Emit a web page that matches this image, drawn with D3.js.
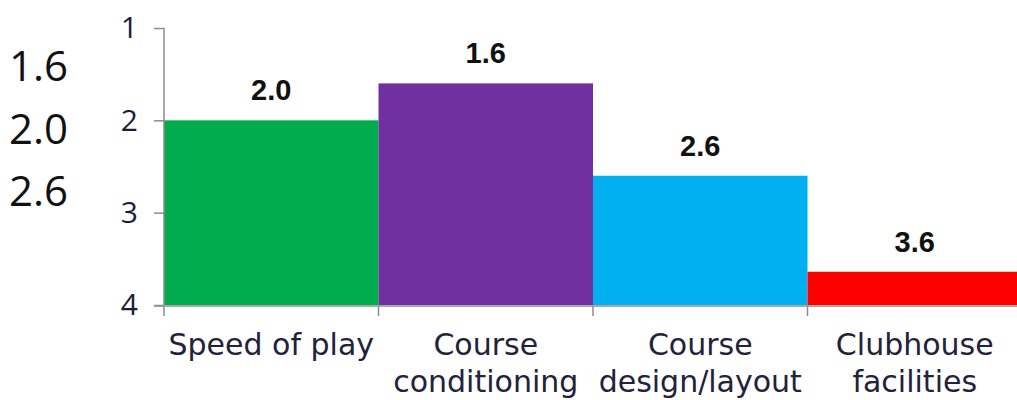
<!DOCTYPE html>
<html><head><meta charset="utf-8">
<script src="https://cdn.jsdelivr.net/npm/d3@7"></script>
<style>body{margin:0;background:#fff;}svg{display:block;}</style>
</head><body>
<svg id="c" width="1017" height="400"></svg>
<script>
const categories = [["Speed of play"], ["Course", "conditioning"], ["Course", "design/layout"], ["Clubhouse", "facilities"]];
const values = [2.0, 1.6, 2.6, 3.64];
const colors = ["#00ac4e", "#7030a0", "#00b0f0", "#ff0000"];
const yTicks = [1, 2, 3, 4];
const sideNotes = ["1.6", "2.0", "2.6"];

const svg = d3.select("#c");
const x = d3.scaleBand().domain(d3.range(categories.length)).range([164, 1022]).padding(0);
const y = d3.scaleLinear().domain([1, 4]).range([28, 305]);

// bars
svg.selectAll("rect.bar").data(values).join("rect")
  .attr("x", (d, i) => x(i)).attr("width", x.bandwidth())
  .attr("y", d => y(d)).attr("height", d => y(4) - y(d))
  .attr("fill", (d, i) => colors[i]);

// value labels
svg.selectAll("text.val").data(values).join("text")
  .attr("x", (d, i) => x(i) + x.bandwidth() / 2)
  .attr("y", d => y(d) - 20)
  .attr("text-anchor", "middle")
  .attr("font-family", "Liberation Sans, Arial, sans-serif")
  .attr("font-weight", "bold").attr("font-size", 29).attr("fill", "#111")
  .text(d => d.toFixed(1));

// y axis
const yAxis = d3.axisLeft(y).tickValues(yTicks).tickSize(10).tickPadding(16).tickFormat(d3.format("d"));
const gy = svg.append("g").attr("transform", "translate(164,0)").call(yAxis);
gy.select(".domain").attr("stroke", "#8c8c8c").attr("stroke-width", 1.5).attr("d", "M0,28V305");
gy.selectAll(".tick line").attr("stroke", "#8c8c8c").attr("stroke-width", 1.5);
gy.selectAll(".tick text").attr("font-family", "Open Sans, sans-serif").attr("font-size", 30).attr("fill", "#1c1c3a").attr("dy", "0.33em");

// x axis
const xAxis = d3.axisBottom(x).tickSize(0).tickFormat("");
const gx = svg.append("g").attr("transform", "translate(0,306)").call(xAxis);
gx.select(".domain").attr("stroke", "#8c8c8c").attr("stroke-width", 1.5).attr("d", "M154,0H1017");
gx.selectAll(".tick").remove();
const bounds = d3.range(categories.length + 1).map(i => 164 + i * x.step());
gx.selectAll("line.sep").data(bounds).join("line")
  .attr("x1", d => d).attr("x2", d => d).attr("y1", 0).attr("y2", 10)
  .attr("stroke", "#8c8c8c").attr("stroke-width", 1.5);

// category labels
const lab = svg.selectAll("text.cat").data(categories).join("text")
  .attr("text-anchor", "middle")
  .attr("font-family", "DejaVu Sans, sans-serif").attr("font-size", 30).attr("fill", "#22223a");
lab.selectAll("tspan").data((d, i) => d.map(s => ({s, i}))).join("tspan")
  .attr("x", d => x(d.i) + x.bandwidth() / 2)
  .attr("y", (d, j) => 355 + j * 37)
  .text(d => d.s);

// side notes
svg.selectAll("text.note").data(sideNotes).join("text")
  .attr("x", 9).attr("y", (d, i) => 81 + i * 62.5)
  .attr("font-family", "Open Sans, sans-serif").attr("font-size", 42).attr("fill", "#111")
  .text(d => d);
</script>
</body></html>
